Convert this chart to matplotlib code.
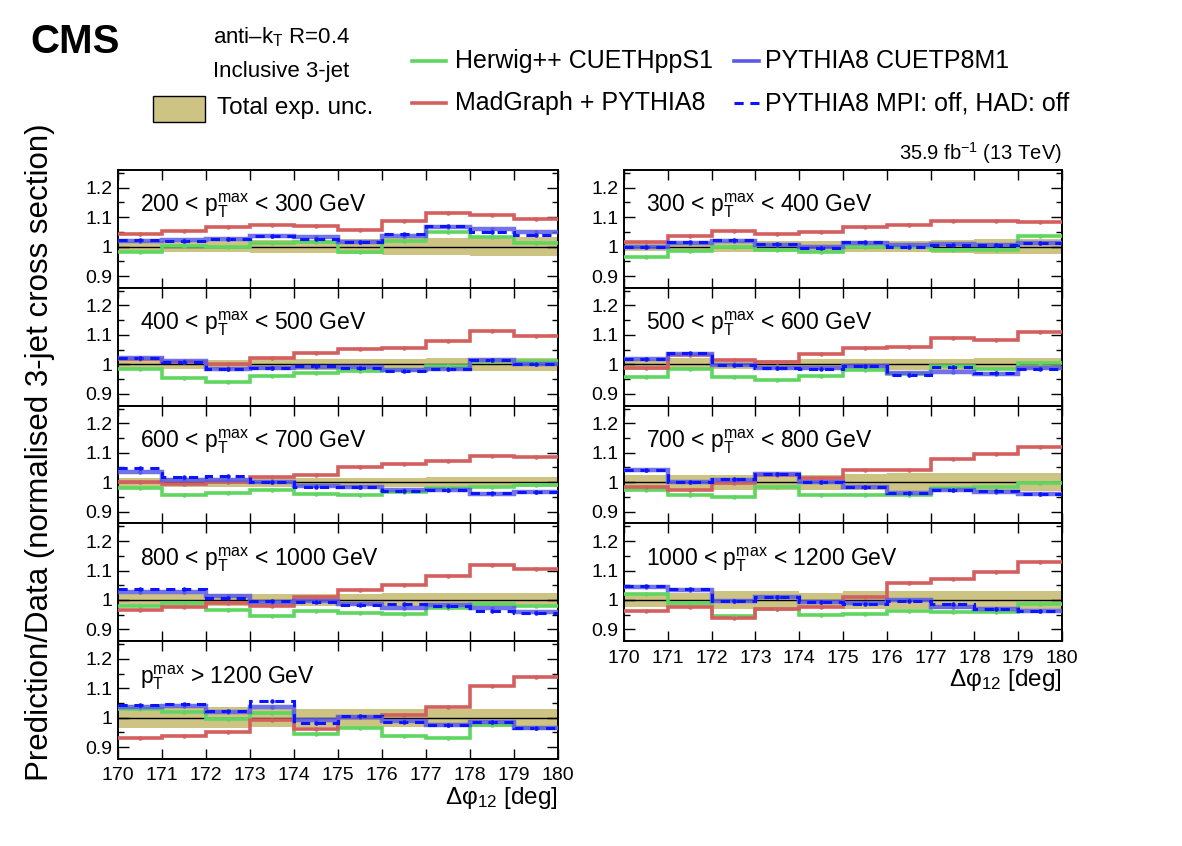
import numpy as np
import matplotlib
matplotlib.use("Agg")
import matplotlib.pyplot as plt
from matplotlib.ticker import MultipleLocator

plt.rcParams['font.family'] = ['Liberation Sans', 'DejaVu Sans']
plt.rcParams['mathtext.fontset'] = 'custom'
plt.rcParams['mathtext.rm'] = 'Liberation Sans'
plt.rcParams['mathtext.it'] = 'Liberation Sans'
plt.rcParams['mathtext.bf'] = 'Liberation Sans:bold'

# ---------------- data ----------------
edges = [170, 171, 172, 173, 174, 175, 176, 177, 178, 179, 180]
x_ticks = [170, 171, 172, 173, 174, 175, 176, 177, 178, 179, 180]
y_ticks = [0.9, 1.0, 1.1, 1.2]
y_tick_labels = ["0.9", "1", "1.1", "1.2"]

panel_labels = [
    r"200 < $\mathrm{p}_{\mathrm{T}}^{\mathrm{max}}$ < 300 GeV",
    r"300 < $\mathrm{p}_{\mathrm{T}}^{\mathrm{max}}$ < 400 GeV",
    r"400 < $\mathrm{p}_{\mathrm{T}}^{\mathrm{max}}$ < 500 GeV",
    r"500 < $\mathrm{p}_{\mathrm{T}}^{\mathrm{max}}$ < 600 GeV",
    r"600 < $\mathrm{p}_{\mathrm{T}}^{\mathrm{max}}$ < 700 GeV",
    r"700 < $\mathrm{p}_{\mathrm{T}}^{\mathrm{max}}$ < 800 GeV",
    r"800 < $\mathrm{p}_{\mathrm{T}}^{\mathrm{max}}$ < 1000 GeV",
    r"1000 < $\mathrm{p}_{\mathrm{T}}^{\mathrm{max}}$ < 1200 GeV",
    r"$\mathrm{p}_{\mathrm{T}}^{\mathrm{max}}$ > 1200 GeV",
]

madgraph = [
    [1.043, 1.052, 1.068, 1.073, 1.071, 1.056, 1.088, 1.114, 1.108, 1.094],
    [1.016, 1.037, 1.054, 1.043, 1.051, 1.066, 1.074, 1.086, 1.086, 1.083],
    [1.017, 1.009, 1.002, 1.020, 1.040, 1.053, 1.056, 1.081, 1.112, 1.095],
    [0.986, 1.031, 1.014, 1.009, 1.034, 1.054, 1.059, 1.088, 1.083, 1.111],
    [1.000, 0.994, 1.002, 1.017, 1.025, 1.051, 1.062, 1.073, 1.090, 1.087],
    [0.985, 0.972, 0.998, 1.023, 1.014, 1.042, 1.040, 1.079, 1.095, 1.121],
    [0.966, 0.977, 0.991, 0.980, 1.011, 1.033, 1.051, 1.081, 1.119, 1.106],
    [0.964, 0.975, 0.938, 0.968, 0.977, 1.011, 1.056, 1.070, 1.094, 1.129],
    [0.930, 0.939, 0.953, 0.992, 0.962, 1.003, 1.009, 1.037, 1.108, 1.137],
]
pythia = [
    [1.020, 1.023, 1.026, 1.035, 1.032, 1.017, 1.036, 1.068, 1.060, 1.051],
    [1.000, 1.012, 1.020, 1.007, 0.998, 1.011, 1.005, 1.009, 1.007, 1.011],
    [1.020, 1.011, 0.985, 0.989, 0.992, 0.992, 0.980, 0.985, 1.014, 1.000],
    [1.017, 1.036, 0.998, 0.989, 0.986, 0.994, 0.972, 0.974, 0.968, 0.989],
    [1.034, 1.009, 1.009, 1.000, 0.986, 0.985, 0.972, 0.974, 0.960, 0.968],
    [1.040, 1.002, 1.009, 1.028, 1.002, 0.985, 0.964, 0.972, 0.966, 0.960],
    [1.028, 1.028, 1.014, 0.993, 0.997, 0.985, 0.974, 0.982, 0.974, 0.959],
    [1.045, 1.034, 0.997, 1.009, 0.992, 0.989, 1.000, 0.977, 0.968, 0.964],
    [1.037, 1.040, 1.018, 1.037, 0.992, 1.003, 0.989, 0.975, 0.984, 0.964],
]
pythia_nompi = [
    [1.023, 1.020, 1.026, 1.035, 1.026, 1.015, 1.043, 1.071, 1.051, 1.040],
    [1.000, 1.015, 1.024, 1.009, 0.995, 1.014, 0.997, 1.007, 1.006, 1.011],
    [1.023, 1.009, 0.983, 0.989, 0.994, 0.989, 0.977, 0.985, 1.014, 1.002],
    [1.017, 1.037, 0.997, 0.986, 0.985, 0.994, 0.964, 0.992, 0.972, 0.985],
    [1.047, 1.017, 1.020, 1.002, 0.985, 0.983, 0.969, 0.974, 0.964, 0.968],
    [1.042, 1.000, 1.011, 1.028, 1.000, 0.985, 0.963, 0.974, 0.969, 0.960],
    [1.036, 1.038, 1.005, 0.997, 0.994, 0.982, 0.985, 0.980, 0.963, 0.957],
    [1.047, 1.036, 0.997, 1.011, 0.994, 0.986, 0.998, 0.985, 0.968, 0.964],
    [1.045, 1.046, 1.023, 1.056, 0.981, 1.006, 0.986, 0.975, 0.987, 0.964],
]
herwig = [
    [0.980, 1.003, 0.998, 1.012, 1.017, 0.983, 1.018, 1.049, 1.032, 1.011],
    [0.964, 0.986, 1.000, 0.989, 0.983, 1.000, 1.000, 0.990, 0.990, 1.035],
    [0.983, 0.953, 0.940, 0.960, 0.972, 0.977, 0.981, 0.994, 1.011, 1.011],
    [0.957, 0.985, 0.957, 0.946, 0.960, 0.980, 0.968, 0.994, 0.985, 1.006],
    [0.980, 0.957, 0.964, 0.972, 0.960, 0.955, 0.966, 0.980, 0.983, 0.989],
    [0.974, 0.957, 0.951, 0.985, 0.955, 0.958, 0.955, 0.980, 0.985, 0.998],
    [0.980, 0.989, 0.966, 0.946, 0.963, 0.957, 0.954, 0.974, 0.988, 0.980],
    [1.019, 0.989, 0.946, 0.969, 0.949, 0.953, 0.964, 0.960, 0.960, 0.985],
    [1.029, 1.018, 0.995, 1.015, 0.944, 0.966, 0.939, 0.932, 0.977, 0.966],
]
exp_unc = [
    [0.018, 0.020, 0.020, 0.022, 0.022, 0.025, 0.030, 0.030, 0.032, 0.033],
    [0.015, 0.015, 0.018, 0.018, 0.018, 0.020, 0.020, 0.022, 0.025, 0.025],
    [0.015, 0.015, 0.015, 0.018, 0.018, 0.018, 0.018, 0.020, 0.022, 0.022],
    [0.018, 0.020, 0.015, 0.015, 0.018, 0.018, 0.018, 0.018, 0.020, 0.020],
    [0.015, 0.015, 0.015, 0.015, 0.015, 0.015, 0.015, 0.018, 0.018, 0.018],
    [0.025, 0.025, 0.025, 0.025, 0.025, 0.028, 0.030, 0.030, 0.030, 0.030],
    [0.020, 0.020, 0.020, 0.020, 0.020, 0.020, 0.022, 0.022, 0.022, 0.022],
    [0.025, 0.025, 0.030, 0.030, 0.025, 0.030, 0.030, 0.030, 0.030, 0.030],
    [0.035, 0.035, 0.035, 0.030, 0.030, 0.030, 0.030, 0.030, 0.030, 0.030],
]

# ---------------- style ----------------
c_herwig = '#5fd65f'
c_mg = '#d45f5f'
c_py = '#5a5ae6'
c_nompi = '#0a14ff'
c_band = '#cdc483'

fig = plt.figure(figsize=(11.82, 8.46), dpi=100)
W, H = 1182.0, 846.0

def add_ax(x0, x1, y0, y1):
    return fig.add_axes([x0 / W, 1 - y1 / H, (x1 - x0) / W, (y1 - y0) / H])

row_h = 117.8
top = 170.0
order = [('L', 0), ('R', 0), ('L', 1), ('R', 1), ('L', 2), ('R', 2), ('L', 3), ('R', 3), ('L', 4)]
centers = [(edges[i] + edges[i + 1]) / 2 for i in range(len(edges) - 1)]

for k, (col, row) in enumerate(order):
    if col == 'L':
        x0, x1 = 118, 558
    else:
        x0, x1 = 624, 1062
    y0 = top + row * row_h
    ax = add_ax(x0, x1, y0, y0 + row_h)
    ax.set_xlim(170, 180)
    ax.set_ylim(0.86, 1.26)

    unc = np.array(exp_unc[k])
    ax.stairs(1 + unc, edges, baseline=1 - unc, fill=True, color=c_band, lw=0, zorder=1)
    ax.axhline(1.0, color='black', lw=1.0, zorder=2)

    ax.stairs(herwig[k], edges, baseline=None, color=c_herwig, lw=2.6, zorder=3)
    ax.stairs(madgraph[k], edges, baseline=None, color=c_mg, lw=2.6, zorder=3)
    ax.stairs(pythia[k], edges, baseline=None, color=c_py, lw=3.2, alpha=0.85, zorder=4)
    ax.stairs(pythia_nompi[k], edges, baseline=None, color=c_nompi, lw=2.2,
              linestyle=(0, (3, 2.2)), zorder=5)
    for vals, c in [(herwig[k], c_herwig), (madgraph[k], c_mg), (pythia[k], c_py), (pythia_nompi[k], c_nompi)]:
        ax.plot(centers, vals, 'o', ms=2.2, color=c, zorder=5)

    ax.text(0.05, 0.645, panel_labels[k], transform=ax.transAxes, fontsize=16.5,
            ha='left', va='baseline')

    ax.set_yticks(y_ticks)
    ax.set_yticklabels(y_tick_labels)
    ax.yaxis.set_minor_locator(MultipleLocator(0.05))
    ax.set_xticks(x_ticks)
    ax.tick_params(axis='both', which='both', direction='in', top=True, right=True,
                   labelsize=14, width=1.0)
    ax.tick_params(axis='y', which='major', length=8, pad=4)
    ax.tick_params(axis='y', which='minor', length=4)
    ax.tick_params(axis='x', which='major', length=7, pad=6)
    for sp in ax.spines.values():
        sp.set_linewidth(1.4)

    last = (col == 'L' and row == 4) or (col == 'R' and row == 3)
    if last:
        ax.set_xticklabels([str(t) for t in x_ticks])
        ax.text(1.0, -0.33, r'Δφ$_{12}$ [deg]', transform=ax.transAxes,
                fontsize=17.5, ha='right', va='center')
    else:
        ax.set_xticklabels([])

# ---------------- overall labels ----------------
fig.text(40 / W, 1 - 452 / H, 'Prediction/Data (normalised 3-jet cross section)',
         rotation=90, fontsize=22.5, ha='center', va='center')
fig.text(30 / W, 1 - 42 / H, 'CMS', fontsize=29, fontweight='bold', ha='left', va='center')
fig.text(213 / W, 1 - 37 / H, r'anti–k$_{\mathrm{T}}$ R=0.4', fontsize=16, ha='left', va='center')
fig.text(213 / W, 1 - 71 / H, 'Inclusive 3-jet', fontsize=16, ha='left', va='center')
fig.patches.append(matplotlib.patches.Rectangle((153 / W, 1 - 122 / H), 52 / W, 26 / H,
                   transform=fig.transFigure, facecolor=c_band, edgecolor='black', lw=1.0))
fig.text(217 / W, 1 - 108 / H, 'Total exp. unc.', fontsize=17.5, ha='left', va='center')

def leg_line(xa, xb, y, color, ls='-', lw=2.6):
    fig.add_artist(matplotlib.lines.Line2D([xa / W, xb / W], [1 - y / H, 1 - y / H],
                                            color=color, lw=lw, linestyle=ls))

leg_line(412, 446, 61, c_herwig)
fig.text(455 / W, 1 - 61 / H, 'Herwig++ CUETHppS1', fontsize=18, ha='left', va='center')
leg_line(412, 446, 103, c_mg)
fig.text(455 / W, 1 - 103 / H, 'MadGraph + PYTHIA8', fontsize=18, ha='left', va='center')
leg_line(734, 759, 61, c_py)
fig.text(765 / W, 1 - 61 / H, 'PYTHIA8 CUETP8M1', fontsize=18, ha='left', va='center')
leg_line(734, 759, 103, c_nompi, ls=(0, (3, 2.2)), lw=2.2)
fig.text(765 / W, 1 - 103 / H, 'PYTHIA8 MPI: off, HAD: off', fontsize=18, ha='left', va='center')

fig.text(1062 / W, 1 - 153 / H, r'35.9 fb$^{\mathrm{-1}}$ (13 TeV)', fontsize=14.5, ha='right', va='center')

fig.savefig('out.png', dpi=100)
